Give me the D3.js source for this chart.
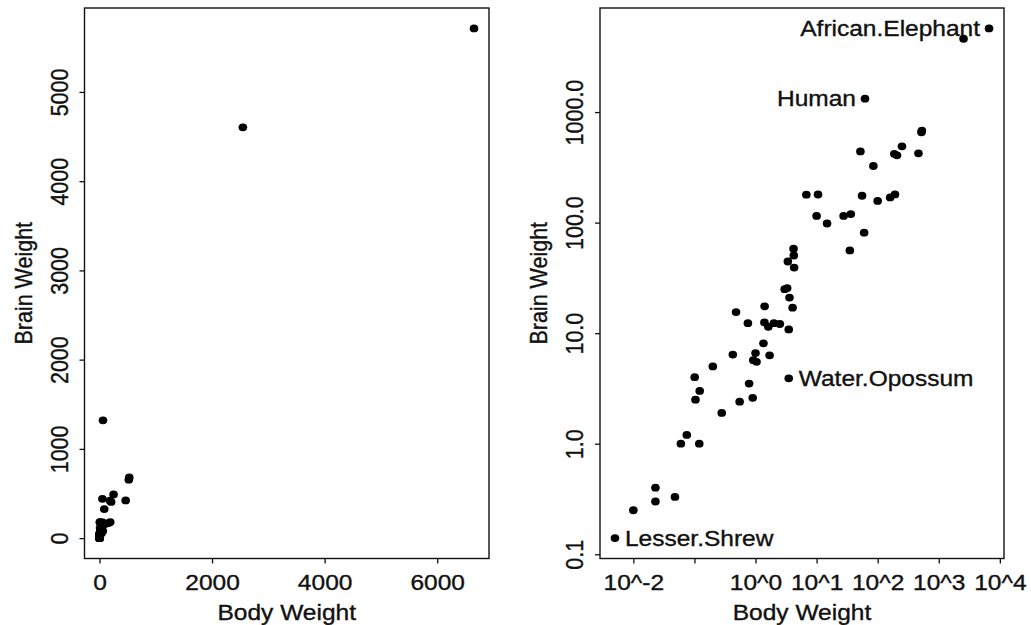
<!DOCTYPE html>
<html>
<head>
<meta charset="utf-8">
<script src="https://cdn.jsdelivr.net/npm/d3@7"></script>
<style>
  html, body { margin: 0; padding: 0; background: #fff; }
  svg { display: block; }
  text { stroke: #111; stroke-width: 0.35px; }
</style>
</head>
<body>
<div id="chart"></div>
<script>
// mammals: body weight (kg) and brain weight (g)
const species = ["Arctic.fox","Owl.monkey","Mountain.beaver","Cow","Grey.wolf","Goat","Roe.deer","Guinea.pig","Verbet","Chinchilla",
  "Ground.squirrel","Arctic.ground.squirrel","African.giant.pouched.rat","Lesser.Shrew","Star.nosed.mole","Nine.banded.armadillo",
  "Tree.hyrax","N.American.opossum","Asian.elephant","Big.brown.bat","Donkey","Horse","European.hedgehog","Patas.monkey","Cat",
  "Galago","Genet","Giraffe","Gorilla","Grey.seal","Rock.hyrax.a","Human","African.Elephant","Water.Opossum","Rhesus.monkey",
  "Kangaroo","Yellow.bellied.marmot","Golden.hamster","Mouse","Little.brown.bat","Slow.loris","Okapi","Rabbit","Sheep","Jaguar",
  "Chimpanzee","Baboon","Desert.hedgehog","Giant.armadillo","Rock.hyrax.b","Raccoon","Rat","E.American.mole","Mole.rat",
  "Musk.shrew","Pig","Echidna","Brazilian.tapir","Tenrec","Phalanger","Tree.shrew","Red.fox"];
const bodyWeight = [3.385,0.48,1.35,465,36.33,27.66,14.83,1.04,4.19,0.425,
  0.101,0.92,1,0.005,0.06,3.5,
  2,1.7,2547,0.023,187.1,521,0.785,10,3.3,
  0.2,1.41,529,207,85,0.75,62,6654,3.5,6.8,
  35,4.05,0.12,0.023,0.01,1.4,250,2.5,55.5,100,
  52.16,10.55,0.55,60,3.6,4.288,0.28,0.075,0.122,
  0.048,192,3,160,0.9,1.62,0.104,4.235];
const brainWeight = [44.5,15.5,8.1,423,119.5,115,98.2,5.5,58,6.4,
  4,5.7,6.6,0.14,1,10.8,
  12.3,6.3,4603,0.3,419,655,3.5,115,25.6,
  5,17.5,680,406,325,12.3,1320,5712,3.9,179,
  56,17,1,0.4,0.25,12.5,490,12.1,175,157,
  440,179.5,2.4,81,21,39.2,1.9,1.2,3,
  0.33,180,25,169,2.6,11.4,2.5,50.4];

const linTicksX = [0, 2000, 4000, 6000];
const linTicksY = [0, 1000, 2000, 3000, 4000, 5000];
const logTicksX = [-2, -1, 0, 1, 2, 3, 4];
const logTickLabelsX = ["10^-2", "", "10^0", "10^1", "10^2", "10^3", "10^4"];
const logTicksY = [-1, 0, 1, 2, 3];
const logTickLabelsY = ["0.1", "1.0", "10.0", "100.0", "1000.0"];

// labelled points in the log panel: name, side
const labelled = [
  ["African.Elephant", "left"],
  ["Human", "left"],
  ["Water.Opossum", "right"],
  ["Lesser.Shrew", "right"]
];

const W = 1031, H = 625;
const SX = 1.14;          // the scan is stretched sideways
const FONT = "'Liberation Sans', Arial, Helvetica, sans-serif";
const FS = 21.5;

const data = species.map((s, i) => ({ name: s, body: bodyWeight[i], brain: brainWeight[i] }));

const svg = d3.select("#chart").append("svg")
  .attr("width", W).attr("height", H)
  .style("font-family", FONT);

// R style range: extend the data range by 4% on each side
function rExtent(vals) {
  const [a, b] = d3.extent(vals);
  const d = (b - a) * 0.04;
  return [a - d, b + d];
}

function panel(opts) {
  const { left, right, top, bottom } = opts;
  const g = svg.append("g");
  const x = d3.scaleLinear().domain(rExtent(data.map(opts.fx))).range([left, right]);
  const y = d3.scaleLinear().domain(rExtent(data.map(opts.fy))).range([bottom, top]);

  // bottom axis
  const ax = g.append("g").attr("transform", `translate(0,${bottom})`)
    .call(d3.axisBottom(x).tickValues(opts.xTicks).tickSize(5).tickSizeOuter(0)
      .tickFormat((d, i) => opts.xLabels[i]));
  ax.select(".domain").remove();
  ax.selectAll("line").attr("stroke", "#111").attr("stroke-width", 1.3);
  ax.selectAll("text")
    .attr("y", null).attr("dy", null)
    .attr("transform", `translate(0,31.5) scale(${SX},1)`)
    .attr("text-anchor", "middle")
    .style("font-size", FS + "px").style("font-family", FONT).attr("fill", "#111");

  // left axis
  const ay = g.append("g").attr("transform", `translate(${left},0)`)
    .call(d3.axisLeft(y).tickValues(opts.yTicks).tickSize(5).tickSizeOuter(0)
      .tickFormat((d, i) => opts.yLabels[i]));
  ay.select(".domain").remove();
  ay.selectAll("line").attr("stroke", "#111").attr("stroke-width", 1.3);
  ay.selectAll("text")
    .attr("x", null).attr("dy", null)
    .attr("transform", `translate(-17,0) scale(${SX},1) rotate(-90)`)
    .attr("text-anchor", "middle")
    .style("font-size", FS + "px").style("font-family", FONT).attr("fill", "#111");

  // box
  g.append("rect")
    .attr("x", left).attr("y", top)
    .attr("width", right - left).attr("height", bottom - top)
    .attr("fill", "none").attr("stroke", "#111").attr("stroke-width", 1.4);

  // titles
  g.append("text")
    .attr("transform", `translate(${(left + right) / 2},620) scale(${SX},1)`)
    .attr("text-anchor", "middle")
    .style("font-size", FS + "px").attr("fill", "#111")
    .text("Body Weight");
  g.append("text")
    .attr("transform", `translate(${left - 53},${(top + bottom) / 2}) scale(${SX},1) rotate(-90)`)
    .attr("text-anchor", "middle")
    .style("font-size", FS + "px").attr("fill", "#111")
    .text("Brain Weight");

  // points
  g.append("g").selectAll("ellipse").data(data).enter().append("ellipse")
    .attr("cx", d => x(opts.fx(d))).attr("cy", d => y(opts.fy(d)))
    .attr("rx", 4.3).attr("ry", 3.9)
    .attr("fill", "#000");

  return { g, x, y };
}

panel({
  left: 84.5, right: 489, top: 8, bottom: 558.5,
  fx: d => d.body, fy: d => d.brain,
  xTicks: linTicksX, xLabels: linTicksX.map(String),
  yTicks: linTicksY, yLabels: linTicksY.map(String)
});

const logPanel = panel({
  left: 600, right: 1004, top: 8, bottom: 558.5,
  fx: d => Math.log10(d.body), fy: d => Math.log10(d.brain),
  xTicks: logTicksX, xLabels: logTickLabelsX,
  yTicks: logTicksY, yLabels: logTickLabelsY
});

// point labels
labelled.forEach(([name, side]) => {
  const d = data.find(e => e.name === name);
  const px = logPanel.x(Math.log10(d.body));
  const py = logPanel.y(Math.log10(d.brain));
  const off = side === "left" ? -9 : 10;
  logPanel.g.append("text")
    .attr("transform", `translate(${px + off},${py + 7.5}) scale(${SX},1)`)
    .attr("text-anchor", side === "left" ? "end" : "start")
    .style("font-size", FS + "px").attr("fill", "#111")
    .text(name);
});
</script>
</body>
</html>
